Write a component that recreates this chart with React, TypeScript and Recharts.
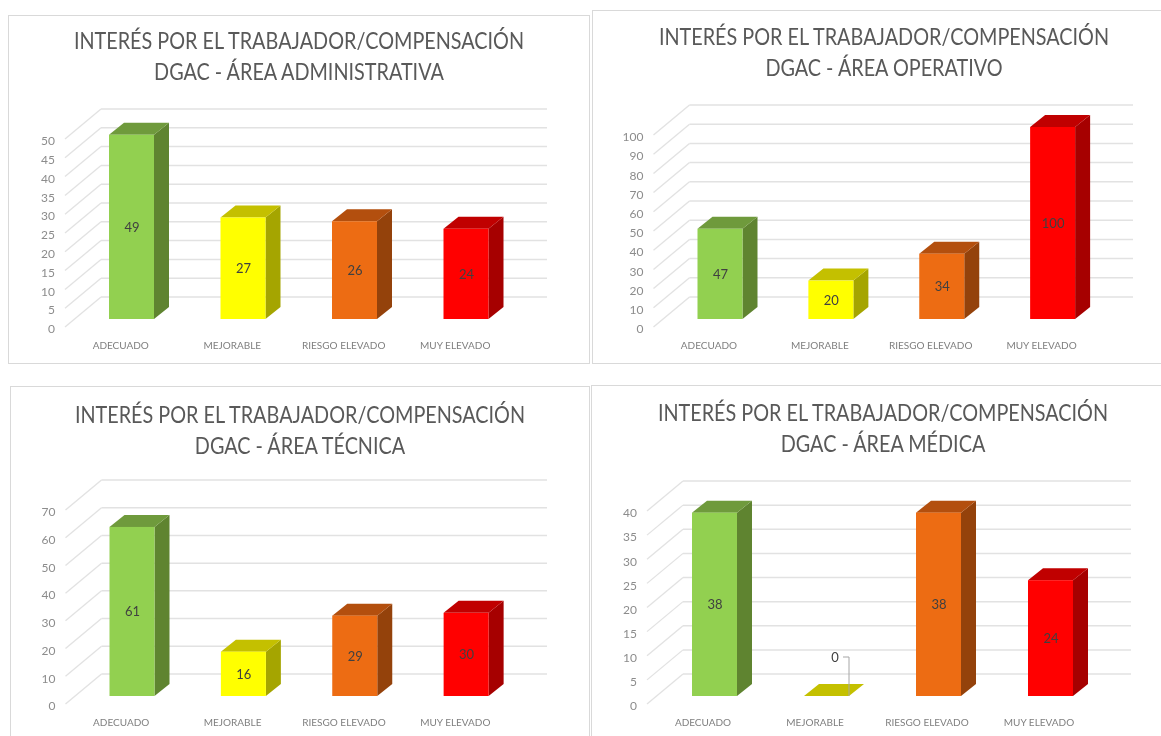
import React from "react";
import { BarChart, Bar, XAxis, YAxis, CartesianGrid, LabelList } from "recharts";

const categories = ["ADECUADO", "MEJORABLE", "RIESGO ELEVADO", "MUY ELEVADO"];
const administrativa = [49, 27, 26, 24];
const operativo = [47, 20, 34, 100];
const tecnica = [61, 16, 29, 30];
const medica = [38, 0, 38, 24];
const ticks50 = [0, 5, 10, 15, 20, 25, 30, 35, 40, 45, 50];
const ticks100 = [0, 10, 20, 30, 40, 50, 60, 70, 80, 90, 100];
const ticks70 = [0, 10, 20, 30, 40, 50, 60, 70];
const ticks40 = [0, 5, 10, 15, 20, 25, 30, 35, 40];
const titleTop = "INTERÉS POR EL TRABAJADOR/COMPENSACIÓN";

const FRONT = ["#92D050", "#FFFF00", "#ED6C13", "#FF0000"];
const TOP = ["#6F9A3C", "#C4C000", "#B34F0E", "#C00000"];
const SIDE = ["#5F8430", "#A5A500", "#94420B", "#A60000"];

const FONT = "Lato, sans-serif";
const BAR_DX = 11;
const BAR_DY = 8;
const DEPTH_X = 15;
const DEPTH_Y = 12;
const WALL_DX = 36;
const WALL_DY = 30;
const YW = 40;
const XH = 30;

const shape3d = (p: any) => {
  const x = p.x + BAR_DX;
  const y = p.y - BAR_DY;
  const w = p.width;
  const h = p.height;
  const i = p.index;
  return (
    <g>
      <polygon
        points={`${x + w},${y} ${x + w + DEPTH_X},${y - DEPTH_Y} ${x + w + DEPTH_X},${y + h - DEPTH_Y} ${x + w},${y + h}`}
        fill={SIDE[i]}
      />
      <polygon
        points={`${x},${y} ${x + DEPTH_X},${y - DEPTH_Y} ${x + w + DEPTH_X},${y - DEPTH_Y} ${x + w},${y}`}
        fill={TOP[i]}
      />
      <rect x={x} y={y} width={w} height={h} fill={FRONT[i]} />
    </g>
  );
};

const valueLabel = (p: any) => {
  const b = p.viewBox ?? p;
  const cx = b.x + BAR_DX + b.width / 2;
  const base = b.y - BAR_DY;
  const v = Number(p.value);
  if (v === 0) {
    const right = b.x + BAR_DX + b.width;
    return (
      <g>
        <polyline
          points={`${right - 6},${base - 39} ${right},${base - 39} ${right},${base}`}
          fill="none"
          stroke="#A6A6A6"
          strokeWidth={1}
        />
        <text x={right - 14} y={base - 37} textAnchor="middle" dominantBaseline="middle" fontFamily={FONT} fontSize={13} fill="#404040">
          {v}
        </text>
      </g>
    );
  }
  return (
    <text x={cx + 0.5} y={base + b.height / 2 + 1.5} textAnchor="middle" dominantBaseline="middle" fontFamily={FONT} fontSize={13} fill="#404040">
      {v}
    </text>
  );
};

const Panel = ({ px, py, pw, ph, left, right, top, bottom, values, ticks, line2, titleX, titleY }: any) => {
  const data = categories.map((c, i) => ({ name: c, value: values[i] }));
  const plotRight = right;
  const wall = (g: any) => (
    <g key={g.key}>
      <line x1={g.x1} y1={g.y1} x2={g.x1 + WALL_DX} y2={g.y1 - WALL_DY} stroke="#E2E2E2" strokeWidth={1.3} />
      <line x1={g.x1 + WALL_DX} y1={g.y1 - WALL_DY} x2={plotRight - px + WALL_DX} y2={g.y1 - WALL_DY} stroke="#E2E2E2" strokeWidth={1.5} />
    </g>
  );
  return (
    <>
      <div style={{ position: "absolute", left: px, top: py, width: pw, height: ph, boxSizing: "border-box", border: "1px solid #D9D9D9", background: "#fff" }} />
      <div style={{ position: "absolute", left: px, top: py, width: pw, height: ph }}>
        <BarChart
          width={pw}
          height={ph}
          data={data}
          barSize={45}
          margin={{ left: left - px - YW, right: pw - (right - px), top: top - py, bottom: ph - (bottom - py) - XH }}
        >
          <CartesianGrid vertical={false} horizontal={wall} />
          <XAxis dataKey="name" interval={0} height={XH} axisLine={false} tickLine={false} tickSize={0} tickMargin={14.5}
            tick={{ fontFamily: FONT, fontSize: 10, fill: "#7F7F7F" }} />
          <YAxis width={YW} domain={[0, ticks[ticks.length - 1]]} ticks={ticks} interval={0} axisLine={false} tickLine={false} tickSize={0} tickMargin={10}
            tick={{ fontFamily: FONT, fontSize: 12, fill: "#8C8C8C", dy: 2 }} />
          <Bar dataKey="value" isAnimationActive={false} shape={shape3d}>
            <LabelList dataKey="value" content={valueLabel} />
          </Bar>
        </BarChart>
      </div>
      {[titleTop, line2].map((t: string, i: number) => (
        <div
          key={i}
          style={{
            position: "absolute",
            left: titleX - 300,
            width: 600,
            top: titleY + i * 31 - 16,
            height: 32,
            lineHeight: "32px",
            textAlign: "center",
            whiteSpace: "nowrap",
            fontFamily: FONT,
            fontSize: 24,
            color: "#595959",
            transform: "scaleX(0.825)",
            transformOrigin: "center",
          }}
        >
          {t}
        </div>
      ))}
    </>
  );
};

export default function App() {
  return (
    <div style={{ position: "absolute", left: 0, top: 0, width: 1161, height: 736, overflow: "hidden", background: "#fff", filter: "blur(0.4px)" }}>
      <Panel px={8} py={15} pw={582} ph={349} left={65} right={511} top={139} bottom={327} values={administrativa} ticks={ticks50} line2="DGAC - ÁREA ADMINISTRATIVA" titleX={299} titleY={40} />
      <Panel px={592} py={10} pw={580} ph={354} left={653.5} right={1097} top={135} bottom={327} values={operativo} ticks={ticks100} line2="DGAC - ÁREA OPERATIVO" titleX={884} titleY={36} />
      <Panel px={10} py={386} pw={580} ph={360} left={65.5} right={511} top={510} bottom={704} values={tecnica} ticks={ticks70} line2="DGAC - ÁREA TÉCNICA" titleX={300} titleY={414} />
      <Panel px={591} py={385} pw={580} ph={360} left={647} right={1095} top={511} bottom={704} values={medica} ticks={ticks40} line2="DGAC - ÁREA MÉDICA" titleX={883} titleY={412} />
    </div>
  );
}
